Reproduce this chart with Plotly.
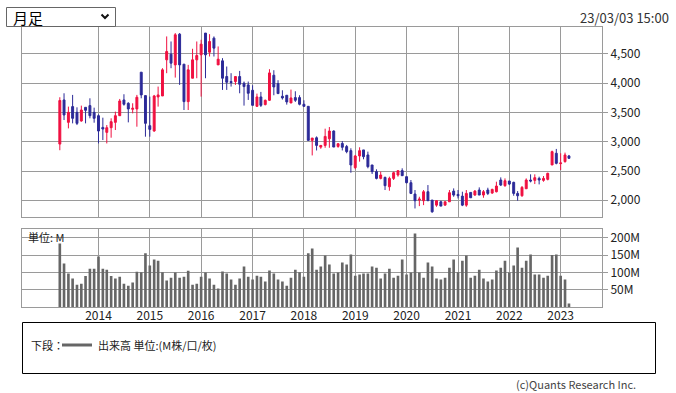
import pandas as pd
import plotly.graph_objects as go

W, H = 676, 393

# ---- data (monthly, 2013-04 .. 2023-03) ----
start_month = "2013-04-01"
n_months = 120
opens = [2960, 3714, 3331, 3600, 3502, 3354, 3588, 3617, 3502, 3445,
         3245, 3160, 3240, 3331, 3445, 3714, 3657, 3554, 3560, 4188,
         3788, 3274, 3183, 3765, 3782, 4399, 4496, 4313, 4838, 4325,
         3685, 4085, 4399, 4485, 4856, 4530, 4770, 4313, 4382, 4114,
         4028, 4028, 4114, 4000, 3971, 3879, 3605, 3765, 3634, 3708,
         4136, 3994, 3777, 3794, 3662, 3754, 3754, 3640, 3605, 3023,
         3068, 2908, 2937, 3051, 3183, 2920, 2970, 2917, 2848, 2557,
         2757, 2860, 2774, 2603, 2489, 2374, 2391, 2231, 2374, 2431,
         2506, 2403, 2300, 2106, 2003, 1992, 2146, 2003, 1917, 1974,
         1917, 1974, 2157, 2100, 2071, 1917, 2134, 2089, 2175, 2089,
         2175, 2123, 2146, 2346, 2249, 2329, 2306, 2117, 2077, 2197,
         2346, 2340, 2374, 2340, 2357, 2603, 2803, 2626, 2660, 2757]
highs = [3760, 3828, 3600, 3800, 3588, 3617, 3588, 3742, 3582, 3468,
         3411, 3285, 3400, 3514, 3731, 3811, 3674, 3657, 3800, 4188,
         3788, 3771, 3800, 3942, 4256, 4799, 4713, 4856, 4856, 4325,
         4313, 4588, 4713, 4742, 4856, 4838, 4799, 4628, 4428, 4285,
         4171, 4114, 4210, 4028, 4028, 3965, 3822, 3851, 3720, 4239,
         4222, 4051, 3879, 3794, 3891, 3862, 3794, 3708, 3605, 3063,
         3091, 2937, 3223, 3251, 3194, 2977, 3011, 2945, 2888, 2774,
         2905, 2860, 2831, 2603, 2529, 2489, 2403, 2403, 2489, 2506,
         2546, 2403, 2346, 2175, 2060, 2175, 2260, 2003, 2003, 1992,
         1980, 2175, 2203, 2175, 2146, 2175, 2134, 2175, 2220, 2175,
         2214, 2197, 2317, 2391, 2374, 2329, 2317, 2157, 2243, 2374,
         2443, 2443, 2403, 2414, 2471, 2848, 2877, 2803, 2814, 2774]
lows = [2855, 3371, 3228, 3314, 3285, 3343, 3314, 3400, 3325, 2971,
        3029, 2971, 3069, 3200, 3445, 3617, 3331, 3485, 3257, 3742,
        3086, 3086, 3171, 3600, 3782, 4171, 4256, 4096, 3971, 3542,
        3542, 4085, 4085, 3771, 4085, 4456, 4456, 4313, 3885, 3885,
        3942, 3971, 3828, 3617, 3714, 3622, 3594, 3594, 3622, 3697,
        3794, 3822, 3720, 3634, 3662, 3680, 3622, 3594, 3023, 2766,
        2851, 2880, 2897, 2897, 2909, 2897, 2851, 2803, 2471, 2529,
        2660, 2700, 2546, 2449, 2357, 2357, 2175, 2163, 2346, 2403,
        2420, 2289, 2106, 1860, 1900, 1917, 1992, 1786, 1889, 1900,
        1910, 1974, 2060, 2031, 1900, 1889, 2043, 2077, 2089, 2043,
        2089, 2111, 2134, 2243, 2231, 2260, 2077, 1992, 2060, 2197,
        2306, 2277, 2271, 2317, 2340, 2603, 2614, 2517, 2643, 2706]
closes = [3705, 3457, 3502, 3400, 3314, 3542, 3537, 3445, 3400, 3183,
          3217, 3240, 3343, 3445, 3697, 3640, 3560, 3571, 3760, 3800,
          3314, 3211, 3782, 3800, 4228, 4542, 4342, 4827, 4313, 3685,
          4228, 4399, 4473, 4667, 4485, 4713, 4599, 4410, 4085, 4016,
          4011, 4114, 3982, 3942, 3828, 3622, 3765, 3622, 3708, 4176,
          3936, 3822, 3748, 3680, 3748, 3708, 3640, 3605, 3023, 3063,
          2937, 2937, 3091, 3183, 2909, 2966, 2905, 2831, 2603, 2757,
          2848, 2745, 2574, 2489, 2374, 2431, 2249, 2374, 2471, 2506,
          2420, 2300, 2117, 1992, 2020, 2146, 1992, 1803, 1992, 1900,
          1974, 2129, 2089, 2077, 1917, 2117, 2043, 2157, 2089, 2146,
          2117, 2186, 2243, 2260, 2334, 2277, 2117, 2077, 2220, 2346,
          2329, 2386, 2346, 2374, 2460, 2831, 2631, 2637, 2774, 2717]
volumes_m = [183, 126, 97, 83, 65, 68, 90, 111, 111, 146,
             111, 108, 90, 83, 88, 68, 62, 71, 102, 101,
             155, 120, 137, 134, 101, 77, 85, 100, 85, 88,
             105, 65, 68, 88, 100, 83, 65, 54, 103, 97,
             80, 65, 83, 117, 88, 80, 91, 88, 74, 106,
             97, 80, 74, 62, 85, 108, 101, 88, 155, 169,
             108, 117, 149, 123, 97, 100, 129, 123, 152, 91,
             94, 97, 97, 117, 114, 83, 97, 111, 85, 91,
             137, 94, 100, 212, 100, 85, 129, 117, 83, 80,
             85, 114, 137, 101, 134, 149, 85, 91, 108, 83,
             74, 80, 106, 114, 134, 100, 120, 172, 114, 134,
             152, 94, 94, 85, 91, 150, 152, 91, 80, 11]
year_ticks = ["2014", "2015", "2016", "2017", "2018", "2019", "2020", "2021", "2022", "2023"]
price_ticks = [2000, 2500, 3000, 3500, 4000, 4500]
vol_ticks = [50, 100, 150, 200]
vol_tick_labels = ["50M", "100M", "150M", "200M"]

months = pd.date_range(start_month, periods=n_months, freq="MS")
year_dates = [f"{y}-01-01" for y in year_ticks]

UP = "#F01040"
DOWN = "#2C2A98"
GRID = "#9a9a9a"
FONT = "Noto Sans CJK JP"


def px(x):
    return x / W


def py(y):
    return 1 - y / H


fig = go.Figure()
fig.add_trace(go.Candlestick(
    x=months, open=opens, high=highs, low=lows, close=closes,
    increasing=dict(line=dict(color=UP, width=1), fillcolor=UP),
    decreasing=dict(line=dict(color=DOWN, width=1), fillcolor=DOWN),
    whiskerwidth=0, xaxis="x", yaxis="y", showlegend=False, hoverinfo="skip",
))
fig.add_trace(go.Bar(
    x=months, y=volumes_m, marker=dict(color="#666666", line=dict(width=0)),
    xaxis="x2", yaxis="y2", showlegend=False, hoverinfo="skip",
))

x_dom = [px(22), px(602)]
x_range = ["2012-07-06", "2023-10-22"]
common_x = dict(
    domain=x_dom, range=x_range, type="date", showgrid=True, gridcolor=GRID, gridwidth=1,
    tickvals=year_dates, showline=True, mirror=True, linecolor=GRID, linewidth=1,
    zeroline=False, fixedrange=True,
)

fig.update_layout(
    width=W, height=H,
    margin=dict(l=0, r=0, t=0, b=0),
    paper_bgcolor="white", plot_bgcolor="white",
    font=dict(family=FONT, size=12, color="#222"),
    bargap=0.33,
    xaxis=dict(**common_x, anchor="y", showticklabels=False, ticks="",
               rangeslider=dict(visible=False)),
    xaxis2=dict(**common_x, anchor="y2", matches="x", ticktext=year_ticks,
                showticklabels=True, ticks="", ticklabelstandoff=-3,
                tickfont=dict(size=12, color="#222")),
    yaxis=dict(domain=[py(217.3), py(27.3)], range=[1709, 4955], side="right",
               tickvals=price_ticks, tickformat=",d", ticks="outside", ticklen=5,
               tickcolor=GRID, showgrid=True, gridcolor=GRID, showline=True, mirror=True,
               linecolor=GRID, zeroline=False, anchor="x", tickfont=dict(size=12, color="#222")),
    yaxis2=dict(domain=[py(307.3), py(229)], range=[0, 225], side="right",
                tickvals=vol_ticks, ticktext=vol_tick_labels, ticks="outside", ticklen=5,
                tickcolor=GRID, showgrid=True, gridcolor=GRID, showline=True, mirror=True,
                linecolor=GRID, zeroline=False, anchor="x2", tickfont=dict(size=12, color="#222")),
)

shapes = [
    # dropdown box
    dict(type="rect", xref="paper", yref="paper", x0=px(6.5), x1=px(115.5), y0=py(26.5), y1=py(7.5),
         line=dict(color="#666", width=1), fillcolor="white", layer="above"),
    # chevron
    dict(type="path", xref="paper", yref="paper",
         path=f"M {px(101.5)},{py(14.5)} L {px(105)},{py(18)} L {px(108.5)},{py(14.5)}",
         line=dict(color="#111", width=2)),
    # legend box
    dict(type="rect", xref="paper", yref="paper", x0=px(22.5), x1=px(655.5), y0=py(373.5), y1=py(322.5),
         line=dict(color="#000", width=1), fillcolor="rgba(0,0,0,0)"),
    # legend line sample
    dict(type="line", xref="paper", yref="paper", x0=px(62), x1=px(92), y0=py(345), y1=py(345),
         line=dict(color="#666666", width=3)),
]
annotations = [
    dict(text="月足", x=px(11), y=py(17), xref="paper", yref="paper", xanchor="left", yanchor="middle",
         showarrow=False, font=dict(family=FONT, size=15, color="#000")),
    dict(text="23/03/03 15:00", x=px(671), y=py(17), xref="paper", yref="paper", xanchor="right",
         yanchor="middle", showarrow=False, font=dict(family=FONT, size=13, color="#333")),
    dict(text="単位: M", x=px(26), y=py(236.5), xref="paper", yref="paper", xanchor="left",
         yanchor="middle", showarrow=False, font=dict(family=FONT, size=11, color="#222")),
    dict(text="下段：", x=px(29), y=py(345), xref="paper", yref="paper", xanchor="left",
         yanchor="middle", showarrow=False, font=dict(family=FONT, size=11, color="#222")),
    dict(text="出来高 単位:(M株/口/枚)", x=px(96), y=py(345), xref="paper", yref="paper",
         xanchor="left", yanchor="middle", showarrow=False, font=dict(family=FONT, size=11, color="#222")),
    dict(text="(c)Quants Research Inc.", x=px(638), y=py(384), xref="paper", yref="paper",
         xanchor="right", yanchor="middle", showarrow=False, font=dict(family=FONT, size=11, color="#444")),
]
fig.update_layout(shapes=shapes, annotations=annotations)

fig.write_html(
    "out.html",
    config={"displayModeBar": False},
    post_script="document.body.style.margin='0';document.body.style.overflow='hidden';",
)
